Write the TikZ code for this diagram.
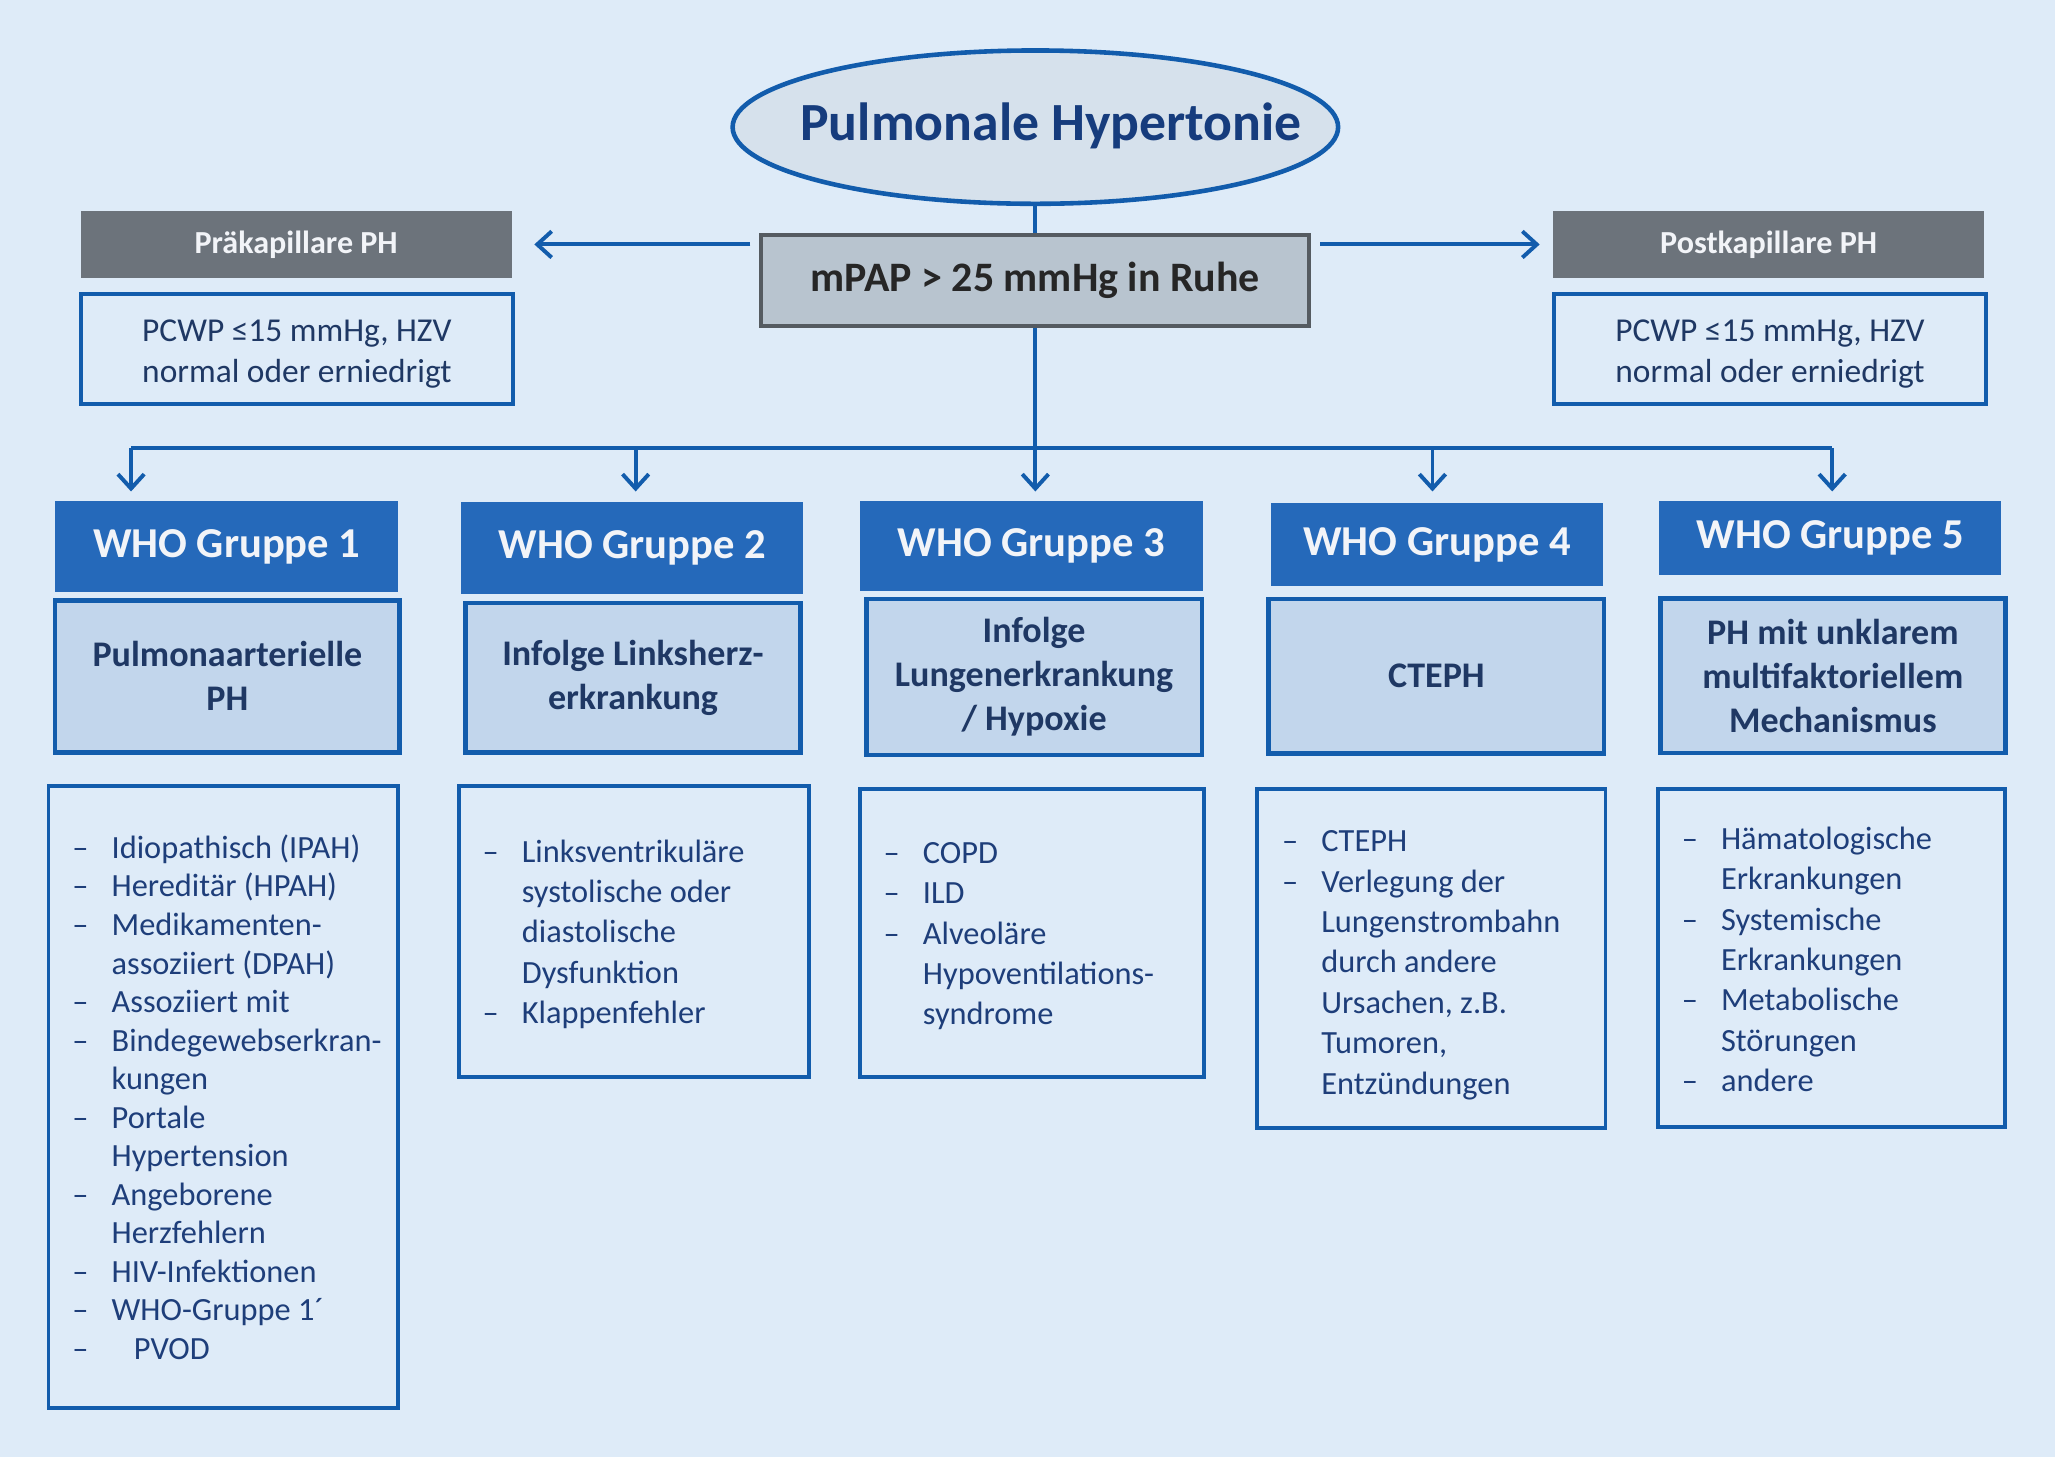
\documentclass[tikz,border=0pt]{standalone}
\usepackage{fontspec}
\setmainfont{Carlito}
\usetikzlibrary{arrows.meta,shapes.geometric}
\definecolor{bg}{RGB}{222,235,248}
\definecolor{bline}{RGB}{18,92,172}
\definecolor{hdrfill}{RGB}{37,105,186}
\definecolor{subfill}{RGB}{194,214,236}
\definecolor{ellfill}{RGB}{214,225,236}
\definecolor{mpapfill}{RGB}{184,196,207}
\definecolor{mpapline}{RGB}{85,91,97}
\definecolor{grayhdr}{RGB}{108,115,123}
\definecolor{navy}{RGB}{31,56,100}
\definecolor{titlec}{RGB}{22,60,125}
\definecolor{listc}{RGB}{30,62,122}
\definecolor{hdrtext}{RGB}{242,244,248}
\newcommand\dsh{\makebox[30pt][l]{–}}
\tikzset{
  conn/.style={draw=bline, line width=3pt},
  arr/.style={conn, -{Straight Barb[length=11pt,width=20pt]}},
  whohdr/.style={rectangle, fill=hdrfill, inner sep=0pt, text=hdrtext,
    font=\bfseries\fontsize{32.5}{38}\selectfont},
  subbox/.style={rectangle, draw=bline, line width=3.5pt, fill=subfill, inner sep=0pt,
    text=navy, align=center, font=\bfseries\fontsize{27.5}{33.5}\selectfont},
  listbox/.style={rectangle, draw=bline, line width=3pt, inner sep=0pt},
  listtxt/.style={anchor=base west, inner sep=0pt, text=listc,
    font=\fontsize{24.7}{#1}\selectfont},
  grayhead/.style={rectangle, fill=grayhdr, inner sep=0pt, text=hdrtext,
    font=\bfseries\fontsize{24.5}{28}\selectfont, minimum width=329pt, minimum height=51pt},
  pcwpbox/.style={rectangle, draw=bline, line width=3pt, inner sep=0pt,
    minimum width=330pt, minimum height=84pt},
  pcwptxt/.style={inner sep=0pt, text=navy, align=center,
    font=\fontsize{25.5}{31}\selectfont}
}
\begin{document}
\begin{tikzpicture}[x=1pt,y=-1pt]
\fill[bg] (0,0) rectangle (1568,1112);
\useasboundingbox (0,0) rectangle (1568,1112);

% title
\node[ellipse, draw=bline, line width=3.5pt, fill=ellfill, minimum width=462pt,
  minimum height=117pt, inner sep=0pt] (ell) at (790,97) {};
\node[inner sep=0pt, text=titlec, font=\bfseries\fontsize{41}{48}\selectfont]
  (elltxt) at (802,96) {Pulmonale Hypertonie};

% mPAP
\node[rectangle, draw=mpapline, line width=3pt, fill=mpapfill, minimum width=418pt,
  minimum height=70pt, inner sep=0pt, text=black!85,
  font=\bfseries\fontsize{32}{36}\selectfont] (mpap) at (790,214) {mPAP > 25 mmHg in Ruhe};

% side headers
\node[grayhead] (pre) at (226,186.5) {Präkapillare PH};
\node[pcwpbox] (prebox) at (226.5,266) {};
\node[pcwptxt] (pretxt) at (226.5,270) {PCWP ≤15 mmHg, HZV\\normal oder erniedrigt};
\node[grayhead] (post) at (1349.5,186.5) {Postkapillare PH};
\node[pcwpbox] (postbox) at (1350.5,266) {};
\node[pcwptxt] (posttxt) at (1350.5,270) {PCWP ≤15 mmHg, HZV\\normal oder erniedrigt};

% WHO headers
\node[whohdr, minimum width=262pt, minimum height=70pt] (g1) at (173,417) {WHO Gruppe 1};
\node[whohdr, minimum width=261pt, minimum height=70pt] (g2) at (482.5,418) {WHO Gruppe 2};
\node[whohdr, minimum width=262pt, minimum height=69pt] (g3) at (787,416.5) {WHO Gruppe 3};
\node[whohdr, minimum width=253pt, minimum height=63pt] (g4) at (1096.5,415.5) {WHO Gruppe 4};
\node[whohdr, minimum width=261pt, minimum height=57pt] (g5) at (1396.5,410.5) {WHO Gruppe 5};

% sub boxes
\node[subbox, minimum width=263pt, minimum height=116pt] (s1) at (173.5,516) {Pulmonaarterielle\\PH};
\node[subbox, minimum width=256pt, minimum height=114pt] (s2) at (483,517) {Infolge Linksherz-\\erkrankung};
\node[subbox, minimum width=256pt, minimum height=119pt] (s3) at (789,516.5) {Infolge\\Lungenerkrankung\\/ Hypoxie};
\node[subbox, minimum width=256pt, minimum height=118pt] (s4) at (1096,516) {CTEPH};
\node[subbox, minimum width=263pt, minimum height=118pt] (s5) at (1398.5,515.5) {PH mit unklarem\\multifaktoriellem\\Mechanismus};

% list boxes
\node[listbox, minimum width=267pt, minimum height=474pt] (l1) at (170.5,837) {};
\node[listbox, minimum width=267pt, minimum height=222pt] (l2) at (483.5,711) {};
\node[listbox, minimum width=263pt, minimum height=220pt] (l3) at (787.5,712) {};
\node[listbox, minimum width=266pt, minimum height=259pt] (l4) at (1092,731.5) {};
\node[listbox, minimum width=265pt, minimum height=258pt] (l5) at (1397.5,731) {};

\node[listtxt=29.4pt] (t1) at (55,655) {\begin{tabular}[t]{@{}l@{}l@{}}
\dsh & Idiopathisch (IPAH)\\
\dsh & Hereditär (HPAH)\\
\dsh & Medikamenten-\\
 & assoziiert (DPAH)\\
\dsh & Assoziiert mit\\
\dsh & Bindegewebserkran-\\
 & kungen\\
\dsh & Portale\\
 & Hypertension\\
\dsh & Angeborene\\
 & Herzfehlern\\
\dsh & HIV-Infektionen\\
\dsh & WHO-Gruppe 1´\\
\dsh & \hspace*{17pt}PVOD
\end{tabular}};

\node[listtxt=30.75pt] (t2) at (368,658) {\begin{tabular}[t]{@{}l@{}l@{}}
\dsh & Linksventrikuläre\\
 & systolische oder\\
 & diastolische\\
 & Dysfunktion\\
\dsh & Klappenfehler
\end{tabular}};

\node[listtxt=30.75pt] (t3) at (674,659) {\begin{tabular}[t]{@{}l@{}l@{}}
\dsh & COPD\\
\dsh & ILD\\
\dsh & Alveoläre\\
 & Hypoventilations-\\
 & syndrome
\end{tabular}};

\node[listtxt=30.8pt] (t4) at (978,650) {\begin{tabular}[t]{@{}l@{}l@{}}
\dsh & CTEPH\\
\dsh & Verlegung der\\
 & Lungenstrombahn\\
 & durch andere\\
 & Ursachen, z.B.\\
 & Tumoren,\\
 & Entzündungen
\end{tabular}};

\node[listtxt=30.8pt] (t5) at (1283,648) {\begin{tabular}[t]{@{}l@{}l@{}}
\dsh & Hämatologische\\
 & Erkrankungen\\
\dsh & Systemische\\
 & Erkrankungen\\
\dsh & Metabolische\\
 & Störungen\\
\dsh & andere
\end{tabular}};

% connectors
\draw[conn] (ell.south) -- (mpap.north);
\draw[arr] ([xshift=-7pt]mpap.west |- pre.east) -- ([xshift=17pt]pre.east);
\draw[arr] ([xshift=7pt]mpap.east |- post.west) -- ([xshift=-10pt]post.west);

\coordinate (b1) at (100,342);
\coordinate (b2) at (485,342);
\coordinate (b3) at (790,342);
\coordinate (b4) at (1093,342);
\coordinate (b5) at (1398,342);
\coordinate (tipy) at (0,375);
\draw[conn] (mpap.south) -- (b3);
\draw[conn] (b1) -- (b5);
\draw[arr] (b1) -- (b1 |- tipy);
\draw[arr] (b2) -- (b2 |- tipy);
\draw[arr] (b3) -- (b3 |- tipy);
\draw[arr] (b4) -- (b4 |- tipy);
\draw[arr] (b5) -- (b5 |- tipy);
\end{tikzpicture}
\end{document}
